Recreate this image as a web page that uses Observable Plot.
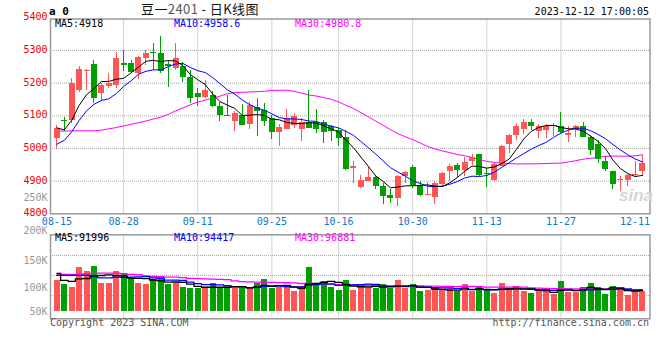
<!DOCTYPE html>
<html><head><meta charset="utf-8">
<script src="https://cdn.jsdelivr.net/npm/d3@7"></script>
<script src="https://cdn.jsdelivr.net/npm/@observablehq/plot@0.6"></script>
<style>
body{margin:0;background:#fff;}
#c{position:relative;width:660px;height:360px;overflow:hidden;background:#fff;font-family:"DejaVu Sans Mono",monospace;font-size:10px;}
.t{position:absolute;white-space:nowrap;line-height:1;}
#c svg{position:absolute;left:0;}
</style></head><body><div id="c"></div>
<script>
const dates = ["08-15","08-16","08-17","08-18","08-21","08-22","08-23","08-24","08-25","08-28","08-29","08-30","08-31",
"09-01","09-04","09-05","09-06","09-07","09-08","09-11","09-12","09-13","09-14","09-15","09-18","09-19","09-20","09-21","09-22","09-25","09-26","09-27","09-28",
"10-09","10-10","10-11","10-12","10-13","10-16","10-17","10-18","10-19","10-20","10-23","10-24","10-25","10-26","10-27","10-30","10-31",
"11-01","11-02","11-03","11-06","11-07","11-08","11-09","11-10","11-13","11-14","11-15","11-16","11-17","11-20","11-21","11-22","11-23","11-24","11-27","11-28","11-29","11-30",
"12-01","12-04","12-05","12-06","12-07","12-08","12-11","12-12"];
const open = [5032,5085,5087,5178,5236,5256,5168,5190,5193,5259,5259,5229,5275,5294,5292,5256,5244,5250,5218,5168,5156,5163,5127,5101,5083,5102,5073,5125,5115,5091,5048,5059,5071,5058,5081,5081,5078,5066,5054,5033,4939,4880,4900,4911,4885,4855,4847,4913,4942,4888,4856,4849,4891,4928,4949,4932,4961,4982,4922,4901,4946,5013,5040,5058,5081,5051,5054,5066,5068,5040,5058,5066,5033,5013,4959,4928,4903,4901,4916,4928];
const high = [5070,5096,5214,5250,5243,5270,5200,5229,5295,5300,5270,5282,5300,5322,5344,5265,5322,5264,5239,5185,5208,5173,5140,5163,5112,5135,5142,5152,5137,5102,5074,5120,5107,5091,5178,5120,5086,5071,5061,5056,4960,4918,4944,4918,4893,4873,4918,4930,4949,4898,4895,4898,4925,4952,4955,4971,4981,4983,4939,4953,5010,5044,5073,5088,5088,5072,5072,5075,5109,5066,5071,5078,5040,5025,4974,4930,4913,4920,4959,4977];
const low = [4997,5053,5076,5172,5176,5137,5145,5183,5185,5236,5231,5210,5255,5240,5228,5188,5238,5203,5137,5128,5152,5124,5082,5097,5053,5070,5058,5037,5068,5028,5005,5058,5061,5020,5060,5046,5015,5020,5007,4934,4893,4878,4899,4873,4830,4832,4822,4893,4878,4852,4855,4827,4885,4900,4911,4913,4949,4913,4880,4900,4944,4985,5023,5043,5054,5030,5031,5037,5047,5017,5033,5033,4979,4954,4928,4873,4867,4885,4911,4913];
const close = [5060,5082,5199,5242,5240,5152,5192,5200,5275,5255,5234,5280,5290,5290,5235,5250,5275,5218,5152,5157,5178,5129,5101,5098,5107,5071,5132,5112,5084,5048,5063,5091,5098,5081,5061,5058,5048,5051,5032,4937,4946,4903,4910,4885,4852,4848,4915,4927,4888,4855,4859,4893,4923,4944,4934,4956,4972,4918,4919,4952,5007,5040,5068,5081,5066,5068,5068,5071,5048,5046,5066,5035,4995,4967,4937,4890,4906,4918,4919,4955];
const ma5 = [5063,5057,5086,5132,5164.6,5183.0,5205.0,5205.2,5211.8,5214.8,5231.2,5248.8,5266.8,5269.8,5265.8,5269.0,5268.0,5253.6,5226.0,5210.4,5196.0,5166.8,5143.4,5132.6,5122.6,5101.2,5101.8,5104.0,5101.2,5089.4,5087.8,5079.6,5076.8,5076.2,5078.8,5077.8,5069.2,5059.8,5050.0,5025.2,5002.8,4973.8,4945.6,4916.2,4899.2,4879.6,4882.0,4885.4,4886.0,4886.6,4888.8,4884.4,4883.6,4894.8,4910.6,4930.0,4945.8,4944.8,4939.8,4943.4,4953.6,4967.2,4997.2,5029.6,5052.4,5064.6,5070.2,5070.8,5064.2,5060.2,5059.8,5053.2,5038.0,5021.8,5000.0,4964.8,4939.0,4923.6,4914.0,4917.6];
const ma10 = [5013,5025,5051,5086,5115,5135,5147,5152,5168,5189.7,5207.1,5226.9,5236.0,5240.8,5240.3,5250.1,5258.4,5260.2,5247.9,5238.1,5232.5,5217.4,5198.5,5179.3,5166.5,5148.6,5134.3,5123.7,5116.9,5106.0,5094.5,5090.7,5090.4,5088.7,5084.1,5082.8,5074.4,5068.3,5063.1,5052.0,5040.3,5021.5,5002.7,4983.1,4962.2,4941.2,4927.9,4915.5,4901.1,4892.9,4884.2,4883.2,4884.5,4890.4,4898.6,4909.4,4915.1,4914.2,4917.3,4927.0,4941.8,4956.5,4971.0,4984.7,4997.9,5009.1,5018.7,5034.0,5046.9,5056.3,5062.2,5061.7,5054.4,5043.0,5030.1,5012.3,4996.1,4980.8,4967.9,4958.8];
const ma30 = [5054,5053,5054,5054,5054,5054,5056,5060,5064,5069,5074,5079,5084,5090,5096,5104,5115,5124,5134,5142,5148,5154,5160,5168,5171,5172,5173,5174,5175,5177.9,5178.0,5178.3,5175.0,5169.6,5163.6,5160.5,5155.7,5150.7,5142.6,5132.0,5122.4,5109.9,5097.2,5083.7,5070.9,5057.5,5045.5,5035.8,5027.0,5017.0,5006.3,4998.5,4992.5,4987.4,4981.6,4977.8,4972.5,4966.0,4960.5,4957.3,4955.4,4953.7,4952.7,4952.7,4952.9,4953.2,4953.9,4954.6,4955.1,4958.7,4962.7,4967.1,4970.0,4972.7,4975.5,4976.9,4976.6,4976.3,4977.4,4980.7];
const volume = [115200,106100,101900,137500,130700,139700,109200,108100,130700,127200,118800,108100,106100,117100,120100,106100,109200,101900,100100,98600,98600,109200,101900,100100,103700,98600,98600,108100,116600,98600,101900,101900,92400,103700,137500,109200,112900,101900,94400,114200,95600,106900,100100,100100,106900,98600,114200,98600,106900,92400,94400,98600,95600,98600,92400,106900,92400,100600,95600,89100,109200,98600,103700,92400,89100,96800,92400,87200,112900,91100,91100,101900,109200,100600,87200,103700,100100,84700,93800,92400];
const volMa5 = [126900,114600,113000,117500,118300,123200,123800,125000,123700,123000,118800,118600,118200,115500,114000,111500,111700,110900,107500,103200,101700,101700,101700,101700,102700,102700,100600,101800,105100,104100,104800,105400,102300,99700,107500,108900,111100,113000,111200,106500,103800,102600,102200,103400,101900,102500,104000,103700,105000,102100,101300,98200,97600,95900,95900,98400,97200,98200,97600,96900,97400,98600,99200,98600,98600,96100,94900,91600,95700,96100,94900,96800,101200,98800,98000,100500,100200,95300,93900,94900];
const volMa10 = [124000,124000,124000,124000,124000,122000,119500,119500,121000,120600,121000,121200,121600,119600,118500,115200,115200,114500,111500,108600,106600,106700,106300,104600,102900,102200,101100,101800,103400,103400,103700,103000,102100,102400,105800,106900,108300,107700,105400,107000,106400,106900,107600,107300,104200,103200,103300,103000,104200,102000,101900,101100,100600,100500,99000,99900,97700,97900,96800,96400,97900,97900,98700,98100,97800,96800,96800,95400,97100,97300,95500,95900,96400,97200,97000,97700,98500,98300,96300,96500];
const volMa30 = [128000,126000,125600,126000,127000,127500,128000,128000,128000,127000,126000,125500,123000,122000,121500,121000,121000,120000,118500,118000,117700,117000,116500,116000,114000,112600,112000,111500,111000,110900,110400,110300,110000,108900,109100,108100,108200,108000,106800,106300,105600,105500,105300,104800,104300,104100,104200,104100,104400,104100,104000,103700,103400,103400,103000,103300,103100,102800,102100,101800,102100,102000,102300,102000,100300,99900,99200,98800,99400,98600,98400,98300,98600,98600,97900,98100,97600,97200,96700,96700];

const priceTicks = [4800,4900,5000,5100,5200,5300,5400];
const priceGridValues = [4900,5000,5100,5200,5300];
const volTicks = [50000,100000,150000,200000,250000];
const volTickLabels = ["50K","100K","150K","200K","250K"];
const volGridValues = [85000,124000,159000];
const gridDates = ["08-28","09-11","09-25","10-16","10-30","11-13","11-27"];
const labelDates = ["08-15","08-28","09-11","09-25","10-16","10-30","11-13","11-27","12-11"];
const priceMaLabels = ["MA5:4918","MA10:4958.6","MA30:4980.8"];
const volMaLabels = ["MA5:91996","MA10:94417","MA30:96881"];
const titleParts = ["豆一", "2401", " - 日K线图"];
const codeText = "a 0";
const timeText = "2023-12-12 17:00:05";
const copyText = "Copyright 2023 SINA.COM";
const urlText = "http://finance.sina.com.cn";

const RED = "#ff5555", GREEN = "#00a000", GRID = "#a8a8a8", FRAME = "#9a9a9a";
const MONO = "DejaVu Sans Mono";
const rows = dates.map((date, i) => ({date, open: open[i], high: high[i], low: low[i], close: close[i],
  ma5: ma5[i], ma10: ma10[i], ma30: ma30[i], vol: volume[i], vma5: volMa5[i], vma10: volMa10[i], vma30: volMa30[i],
  up: close[i] >= open[i]}));
const upRows = rows.filter(d => d.up), downRows = rows.filter(d => !d.up);

const xScale = {type: "point", domain: dates, range: [52.7, 645.7], axis: null};
const root = document.getElementById("c");

// price panel
const PH = 232;
const price = Plot.plot({
  width: 660, height: PH,
  marginLeft: 50, marginRight: 10.5, marginTop: 18.5, marginBottom: PH - 213.3,
  x: xScale,
  y: {domain: [4800, 5400], range: [213.3, 17.3], axis: null},
  style: {background: "transparent", fontFamily: MONO, fontSize: "10px", overflow: "visible"},
  marks: [
    Plot.ruleY(priceGridValues, {y: d => d, stroke: GRID, strokeDasharray: "1,1"}),
    Plot.ruleX(gridDates, {x: d => d, stroke: GRID, strokeDasharray: "1,1"}),
    Plot.frame({stroke: FRAME, strokeWidth: 1.5}),
    Plot.line(rows, {x: "date", y: "ma30", stroke: "#ff00ff", strokeWidth: 1}),
    Plot.ruleX(upRows, {x: "date", y1: "low", y2: "high", stroke: RED, strokeWidth: 1, shapeRendering: "crispEdges"}),
    Plot.ruleX(downRows, {x: "date", y1: "low", y2: "high", stroke: GREEN, strokeWidth: 1, shapeRendering: "crispEdges"}),
    Plot.ruleX(upRows, {x: "date", y1: "open", y2: "close", stroke: RED, strokeWidth: 6, shapeRendering: "crispEdges"}),
    Plot.ruleX(downRows, {x: "date", y1: "open", y2: "close", stroke: GREEN, strokeWidth: 6, shapeRendering: "crispEdges"}),
    Plot.line(rows, {x: "date", y: "ma10", stroke: "#0000ff", strokeWidth: 1}),
    Plot.line(rows, {x: "date", y: "ma5", stroke: "#000000", strokeWidth: 1}),
    Plot.text(priceTicks, {y: d => d, text: d => String(d), frameAnchor: "left", dx: -3, dy: -0.8, textAnchor: "end", fill: "#f00000", fontSize: 10, fontFamily: MONO}),
    Plot.text(labelDates, {x: d => d, text: d => d, frameAnchor: "bottom", dy: 11, fill: "#0f78c8", fontSize: 10, fontFamily: MONO})
  ]
});
price.style.top = "0px";
root.append(price);

// volume panel
const VT = 186, VH = 174;
const volChart = Plot.plot({
  width: 660, height: VH,
  marginLeft: 50, marginRight: 10.5, marginTop: 234.3 - VT, marginBottom: VH - (318.3 - VT),
  x: xScale,
  y: {type: "pow", exponent: 1.3, domain: [50000, 200000], range: [311 - VT, 230 - VT], axis: null},
  style: {background: "transparent", fontFamily: MONO, fontSize: "10px", overflow: "visible"},
  marks: [
    Plot.ruleY(volGridValues, {y: d => d, stroke: GRID, strokeDasharray: "1,1"}),
    Plot.ruleX(gridDates, {x: d => d, stroke: GRID, strokeDasharray: "1,1"}),
    Plot.frame({stroke: FRAME, strokeWidth: 1.5}),
    Plot.ruleX(upRows, {x: "date", y1: 50000, y2: "vol", stroke: RED, strokeWidth: 6, shapeRendering: "crispEdges"}),
    Plot.ruleX(downRows, {x: "date", y1: 50000, y2: "vol", stroke: GREEN, strokeWidth: 6, shapeRendering: "crispEdges"}),
    Plot.line(rows, {x: "date", y: "vma30", stroke: "#ff00ff", strokeWidth: 1.3, curve: "step"}),
    Plot.line(rows, {x: "date", y: "vma10", stroke: "#0000ff", strokeWidth: 1.3, curve: "step"}),
    Plot.line(rows, {x: "date", y: "vma5", stroke: "#000000", strokeWidth: 1.3, curve: "step"}),
    Plot.text(volTicks, {y: d => d, text: (d, i) => volTickLabels[i], frameAnchor: "left", dx: -3, textAnchor: "end", fill: "#999999", fontSize: 10, fontFamily: MONO})
  ]
});
volChart.style.top = VT + "px";
root.append(volChart);

function addText(txt, css) {
  const el = document.createElement("div");
  el.className = "t";
  el.textContent = txt;
  Object.assign(el.style, css);
  root.append(el);
  return el;
}
addText(codeText, {left: "49px", top: "6.2px", fontSize: "11px", fontWeight: "bold", color: "#000"});
const title = addText("", {left: "141px", top: "1.7px", fontSize: "13px", fontFamily: "'Noto Sans CJK SC', sans-serif", color: "#111", letterSpacing: "0.4px"});
titleParts.forEach((p, i) => {
  const s = document.createElement("span");
  s.textContent = p;
  if (i === 1) s.style.color = "#555";
  title.append(s);
});
addText(timeText, {right: "11px", top: "6.7px", fontSize: "10px", color: "#000"});
const maColors = ["#000000", "#0000ff", "#ff00ff"];
const maLeft = [55, 174, 295];
priceMaLabels.forEach((t, i) => addText(t, {left: maLeft[i] + "px", top: "19.2px", color: maColors[i]}));
volMaLabels.forEach((t, i) => addText(t, {left: maLeft[i] + "px", top: "233px", color: maColors[i]}));
addText(copyText, {left: "50px", top: "317.7px", color: "#555"});
addText(urlText, {right: "11px", top: "317.7px", color: "#555"});
addText("sina", {left: "619px", top: "187px", fontSize: "17px", fontStyle: "italic", fontWeight: "bold", fontFamily: "'Liberation Sans', sans-serif", color: "#d6d6d6"});
</script></body></html>
